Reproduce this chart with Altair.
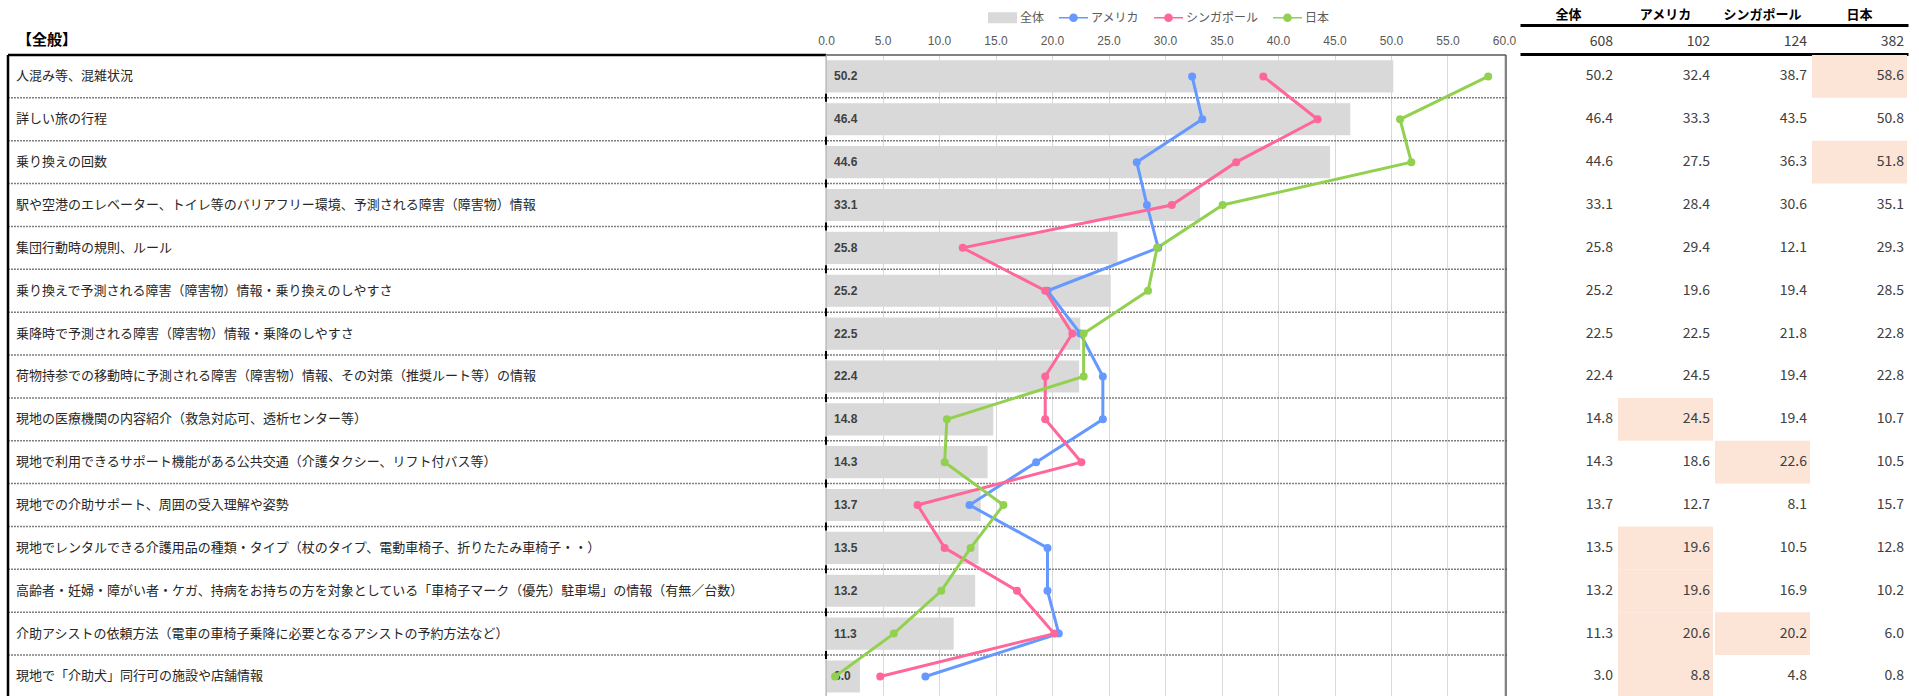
import altair as alt
import pandas as pd

# ---------------- data ----------------
categories = [
    "人混み等、混雑状況",
    "詳しい旅の行程",
    "乗り換えの回数",
    "駅や空港のエレベーター、トイレ等のバリアフリー環境、予測される障害（障害物）情報",
    "集団行動時の規則、ルール",
    "乗り換えで予測される障害（障害物）情報・乗り換えのしやすさ",
    "乗降時で予測される障害（障害物）情報・乗降のしやすさ",
    "荷物持参での移動時に予測される障害（障害物）情報、その対策（推奨ルート等）の情報",
    "現地の医療機関の内容紹介（救急対応可、透析センター等）",
    "現地で利用できるサポート機能がある公共交通（介護タクシー、リフト付バス等）",
    "現地での介助サポート、周囲の受入理解や姿勢",
    "現地でレンタルできる介護用品の種類・タイプ（杖のタイプ、電動車椅子、折りたたみ車椅子・・）",
    "高齢者・妊婦・障がい者・ケガ、持病をお持ちの方を対象としている「車椅子マーク（優先）駐車場」の情報（有無／台数）",
    "介助アシストの依頼方法（電車の車椅子乗降に必要となるアシストの予約方法など）",
    "現地で「介助犬」同行可の施設や店舗情報",
]
total = [50.2, 46.4, 44.6, 33.1, 25.8, 25.2, 22.5, 22.4, 14.8, 14.3, 13.7, 13.5, 13.2, 11.3, 3.0]
america = [32.4, 33.3, 27.5, 28.4, 29.4, 19.6, 22.5, 24.5, 24.5, 18.6, 12.7, 19.6, 19.6, 20.6, 8.8]
singapore = [38.7, 43.5, 36.3, 30.6, 12.1, 19.4, 21.8, 19.4, 19.4, 22.6, 8.1, 10.5, 16.9, 20.2, 4.8]
japan = [58.6, 50.8, 51.8, 35.1, 29.3, 28.5, 22.8, 22.8, 10.7, 10.5, 15.7, 12.8, 10.2, 6.0, 0.8]
series_names = ["全体", "アメリカ", "シンガポール", "日本"]
sample_sizes = [608, 102, 124, 382]
axis_ticks = [0, 5, 10, 15, 20, 25, 30, 35, 40, 45, 50, 55, 60]
title_text = "【全般】"

# ---------------- styles ----------------
JP = "Noto Sans CJK JP"
NUM = "Liberation Sans"
series_colors = ["#d9d9d9", "#6699ff", "#ff6699", "#92d050"]
LINE_DOT = ("M-1,-0.055L1,-0.055L1,0.055L-1,0.055Z "
            "M-0.3,0A0.3,0.3,0,1,1,0.3,0A0.3,0.3,0,1,1,-0.3,0Z")
legend_shapes = ["M-1,-0.38L1,-0.38L1,0.38L-1,0.38Z", LINE_DOT, LINE_DOT, LINE_DOT]

W, H = 1919, 641
ROW_EXTENT = 642.9
X0, X1 = 826, 1504          # plot range for 0..60
FRAME_R = 1506
TABLE_L = 8
R_RANGE = [1520, 1908]

# ---------------- frames ----------------
n = len(categories)
df_rows = pd.DataFrame({"cat": categories, "idx": list(range(n)), "value": total})
records = []
for name, vals in zip(series_names, [total, america, singapore, japan]):
    for i, (c, v) in enumerate(zip(categories, vals)):
        records.append({
            "cat": c, "idx": i, "series": name, "value": v,
            "label": f"{v:.1f}",
            "hi": bool(name != "全体" and (v - total[i]) >= 5),
        })
df_long = pd.DataFrame(records)
df_lines = df_long[df_long.series != "全体"]
df_hi = df_long[df_long.hi]
df_sep = pd.DataFrame({"cat": categories[1:]})
one = pd.DataFrame({"a": [0]})


def y_enc(band_pos=None):
    kw = {}
    if band_pos is not None:
        kw["bandPosition"] = band_pos
    return alt.Y("cat:N",
                 scale=alt.Scale(type="band", domain=categories, range=[0, ROW_EXTENT],
                                 paddingInner=0, paddingOuter=0),
                 axis=None, **kw)


color_scale = alt.Scale(domain=series_names, range=series_colors)
shape_scale = alt.Scale(domain=series_names, range=legend_shapes)

x_main = alt.X(
    "value:Q",
    scale=alt.Scale(domain=[0, 60], range=[X0, X1], nice=False, zero=False),
    axis=alt.Axis(orient="top", values=axis_ticks, format=".1f", grid=True,
                  gridColor="#d9d9d9", gridWidth=1, ticks=False, domain=False,
                  labelFont=NUM, labelFontSize=12, labelColor="#595959",
                  labelPadding=8, labelFlush=False, labelOverlap=False, title=None),
)

# ---------------- legend (carrier points sit far outside the canvas) ----------------
leg = alt.Legend(orient="none", legendX=988, legendY=-52, direction="horizontal",
                 title=None, symbolSize=841, symbolStrokeWidth=0, symbolOpacity=1,
                 labelFont=JP, labelFontSize=12, labelColor="#595959",
                 labelOffset=3, columnPadding=14, padding=0)
legend_layer = alt.Chart(pd.DataFrame({"series": series_names})).mark_point(
    filled=True, opacity=1
).encode(
    x=alt.value(-2000), y=alt.value(-2000),
    color=alt.Color("series:N", scale=color_scale, legend=leg),
    shape=alt.Shape("series:N", scale=shape_scale, legend=leg),
)

# ---------------- left table ----------------
title_layer = alt.Chart(one).mark_text(
    text=title_text, align="left", baseline="middle", font=JP, fontSize=15,
    fontWeight="bold", color="black"
).encode(x=alt.value(17), y=alt.value(-15))

labels = alt.Chart(df_rows).mark_text(
    align="left", baseline="middle", font=JP, fontSize=13, color="#262626"
).encode(x=alt.value(16), y=y_enc(), text="cat:N")

separators = alt.Chart(df_sep).mark_rule(
    color="#7f7f7f", strokeWidth=1.5, strokeDash=[2, 1]
).encode(x=alt.value(TABLE_L), x2=alt.value(FRAME_R + 2), y=y_enc(0))

sep_ticks = alt.Chart(df_sep).mark_point(
    shape="M0,-1L0,1", size=64, stroke="black", strokeWidth=2, filled=False, opacity=1
).encode(x=alt.value(X0), y=y_enc(0))

top_border = alt.Chart(one).mark_rule(color="black", strokeWidth=2.5).encode(
    x=alt.value(TABLE_L), x2=alt.value(X0), y=alt.value(0))
left_border = alt.Chart(one).mark_rule(color="black", strokeWidth=2.5).encode(
    x=alt.value(TABLE_L), y=alt.value(0), y2=alt.value(H + 5))
plot_top = alt.Chart(one).mark_rule(color="#595959", strokeWidth=1.5).encode(
    x=alt.value(X0), x2=alt.value(FRAME_R), y=alt.value(0))
plot_left = alt.Chart(one).mark_rule(color="#a6a6a6", strokeWidth=1).encode(
    x=alt.value(X0), y=alt.value(0), y2=alt.value(H + 5))
plot_right = alt.Chart(one).mark_rule(color="#595959", strokeWidth=1.5).encode(
    x=alt.value(FRAME_R), y=alt.value(0), y2=alt.value(H + 5))

# ---------------- main plot ----------------
bars = alt.Chart(df_rows).mark_bar(
    color="#d9d9d9", height=alt.RelativeBandSize(0.75)
).encode(x=x_main, y=y_enc())

bar_text = alt.Chart(df_rows).mark_text(
    align="left", baseline="middle", dx=8, font=NUM, fontSize=12,
    fontWeight="bold", color="#404040"
).encode(x=alt.datum(0), y=y_enc(), text=alt.Text("value:Q", format=".1f"))

lines = alt.Chart(df_lines).mark_line(strokeWidth=3).encode(
    x=x_main, y=y_enc(),
    color=alt.Color("series:N", scale=color_scale),
    order=alt.Order("idx:Q"),
)
points = alt.Chart(df_lines).mark_circle(size=64, opacity=1).encode(
    x=x_main, y=y_enc(),
    color=alt.Color("series:N", scale=color_scale),
)
main = alt.layer(bars, bar_text, lines, points)

# ---------------- right table ----------------
count_map = "{" + ",".join(f"'{s}':'{c}'" for s, c in zip(series_names, sample_sizes)) + "}"

hi_rect = alt.Chart(df_hi).mark_rect(color="#fce4d6").encode(
    x=alt.X("series:N",
            scale=alt.Scale(type="band", domain=series_names, range=R_RANGE,
                            paddingInner=0.02, paddingOuter=0.01),
            axis=alt.Axis(orient="top", offset=30, domainColor="black", domainWidth=3,
                          ticks=False, labelFont=JP, labelFontSize=13,
                          labelFontWeight="bold", labelColor="black", labelPadding=4,
                          labelAngle=0, labelOverlap=False, grid=False, title=None)),
    y=y_enc(),
)

numbers = alt.Chart(df_long).mark_text(
    align="right", baseline="middle", dx=-3, font=JP, fontSize=14, color="#404040"
).encode(
    x=alt.X("series:N", bandPosition=1,
            scale=alt.Scale(type="band", domain=series_names, range=R_RANGE,
                            paddingInner=0.02, paddingOuter=0.01),
            axis=alt.Axis(orient="top", offset=1, domainColor="black", domainWidth=3,
                          ticks=False, labelFont=JP, labelFontSize=14,
                          labelColor="#404040", labelPadding=6, labelAlign="right",
                          labelOffset=44.5, labelAngle=0, labelOverlap=False, grid=False,
                          labelExpr=f"{count_map}[datum.value]", title=None)),
    y=y_enc(),
    text="label:N",
)

chart = alt.layer(
    legend_layer, hi_rect, separators, labels, title_layer, main, numbers,
    top_border, left_border, plot_top, plot_left, plot_right, sep_ticks,
).resolve_scale(x="independent").properties(
    width=W, height=H,
    autosize=alt.AutoSizeParams(type="none"),
    padding={"left": 0, "top": 55, "right": 0, "bottom": 0},
    background="white",
).configure_view(stroke=None)

chart.save("out.html", embed_options={"renderer": "svg", "actions": False})
